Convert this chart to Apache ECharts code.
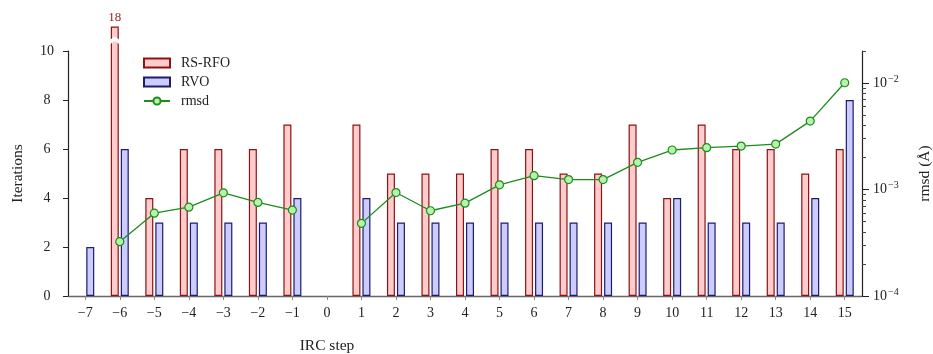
<!DOCTYPE html>
<html>
<head>
<meta charset="utf-8">
<script src="https://cdn.jsdelivr.net/npm/echarts@6/dist/echarts.min.js"></script>
<style>
html,body{margin:0;padding:0;background:#fff;}
#chart{width:933px;height:354px;}
</style>
</head>
<body>
<div id="chart"></div>
<script>
// ---- data ----
const steps = [-7,-6,-5,-4,-3,-2,-1,0,1,2,3,4,5,6,7,8,9,10,11,12,13,14,15];
const rsrfo = [null,18,4,6,6,6,7,null,7,5,5,5,6,6,5,5,7,4,7,6,6,5,6];
const rvo   = [2,6,3,3,3,3,4,null,4,3,3,3,3,3,3,3,3,4,3,3,3,4,8];
const rmsd  = [null,3.24e-4,6.0e-4,6.83e-4,9.31e-4,7.56e-4,6.41e-4,null,4.81e-4,9.37e-4,6.32e-4,7.45e-4,
               1.107e-3,1.35e-3,1.24e-3,1.24e-3,1.80e-3,2.35e-3,2.47e-3,2.56e-3,2.67e-3,4.39e-3,1.007e-2];
const leftTicks = [0,2,4,6,8,10];
const rightMajor = [1e-4,1e-3,1e-2];
const rightMinor = [];
[1e-4,1e-3,1e-2].forEach(d => { for (let k = 2; k <= 9; k++) { const v = +(k*d).toPrecision(3); if (v <= 0.02) rightMinor.push(v); } });

const FONT = 'Liberation Serif';
const TXT = '#222';
const yMax = 10;
const capShown = 11; // height of broken bar shown above axis top

const catLabels = steps.map(s => String(s).replace('-', '\u2212'));

const rsData = rsrfo.map(v => {
  if (v == null) return '-';
  if (v > yMax) return { value: capShown, label: { show: true, position: 'top', distance: 2, formatter: String(v), color: '#9b1c1c', fontFamily: FONT, fontSize: 13 } };
  return v;
});
const breakMarks = [];
rsrfo.forEach((v, i) => { if (v != null && v > yMax) breakMarks.push({ coord: [catLabels[i], yMax] }); });

const chart = echarts.init(document.getElementById('chart'), null, { renderer: 'canvas' });
chart.setOption({
  animation: false,
  backgroundColor: '#fff',
  textStyle: { fontFamily: FONT, color: TXT },
  title: {
    text: 'IRC step', left: 327, top: 338, textAlign: 'center', padding: 0,
    textStyle: { fontFamily: FONT, fontSize: 15.5, fontWeight: 'normal', color: TXT }
  },
  legend: {
    orient: 'vertical', left: 143, top: 56, padding: 0,
    itemWidth: 26, itemHeight: 9, itemGap: 5,
    textStyle: { fontFamily: FONT, fontSize: 14, color: TXT, padding: [0, 0, 0, 6] },
    data: [{ name: 'RS-RFO', icon: 'rect' }, { name: 'RVO', icon: 'rect' }, { name: 'rmsd' }]
  },
  grid: { left: 68, right: 71, top: 51, bottom: 58, containLabel: false, outerBoundsMode: 'none' },
  xAxis: {
    type: 'category', data: catLabels, boundaryGap: true,
    axisLine: { show: true, lineStyle: { color: '#666', width: 1.3 } },
    axisTick: { show: true, alignWithLabel: true, length: 4, lineStyle: { color: '#888' } },
    axisLabel: { fontFamily: FONT, fontSize: 14, color: TXT, margin: 10, interval: 0 },
    splitLine: { show: false }
  },
  yAxis: [
    {
      type: 'value', min: 0, max: 10, interval: 2, position: 'left',
      name: 'Iterations', nameLocation: 'middle', nameGap: 42, nameRotate: 90,
      nameTextStyle: { fontFamily: FONT, fontSize: 15.5, color: TXT },
      axisLine: { show: true, lineStyle: { color: '#222', width: 1.2 } },
      axisTick: { show: true, length: 5, lineStyle: { color: '#222' } },
      axisLabel: { fontFamily: FONT, fontSize: 14, color: TXT, margin: 21, align: 'center' },
      splitLine: { show: false }
    },
    {
      type: 'log', logBase: 10, min: 1e-4, max: 0.02, position: 'right',
      name: 'rmsd (Å)', nameLocation: 'middle', nameGap: 55, nameRotate: 90,
      nameTextStyle: { fontFamily: FONT, fontSize: 15.5, color: TXT },
      axisLine: { show: true, lineStyle: { color: '#222', width: 1.2 } },
      axisTick: { show: true, length: 7, lineStyle: { color: '#222' }, customValues: rightMajor },
      axisLabel: {
        fontFamily: FONT, fontSize: 14, color: TXT, margin: 11, customValues: rightMajor,
        formatter: v => {
          const e = Math.round(Math.log10(v));
          return '10{sup|' + String(e).replace('-', '\u2212') + '}';
        },
        rich: { sup: { fontFamily: FONT, fontSize: 10, color: TXT, verticalAlign: 'top', padding: [0, 0, 8, 1] } }
      },
      splitLine: { show: false }
    },
    {
      type: 'log', logBase: 10, min: 1e-4, max: 0.02, position: 'right', offset: 0,
      axisLine: { show: true, lineStyle: { color: '#222', width: 1.2, opacity: 0 } },
      axisTick: { show: true, length: 4, lineStyle: { color: '#444', width: 1 }, customValues: rightMinor },
      axisLabel: { show: true, customValues: rightMinor, formatter: () => '', fontSize: 1 },
      splitLine: { show: false }
    }
  ],
  series: [
    {
      name: 'RS-RFO', type: 'bar', yAxisIndex: 0, barWidth: 8, barGap: '25%', clip: false,
      itemStyle: { color: '#ffcccc', borderColor: '#8b1414', borderWidth: 1.2 },
      data: rsData,
      markPoint: {
        symbol: 'path://M0,5 L6,0 L12,5 L12,10 L6,5 L0,10 Z',
        symbolSize: [13, 9], symbolOffset: [0, -10],
        itemStyle: { color: '#fff', borderWidth: 0 },
        label: { show: false },
        data: breakMarks
      }
    },
    {
      name: 'RVO', type: 'bar', yAxisIndex: 0, barWidth: 8, clip: false,
      itemStyle: { color: '#ccccff', borderColor: '#1c1c6e', borderWidth: 1.2 },
      data: rvo.map(v => v == null ? '-' : v)
    },
    {
      name: 'rmsd', type: 'line', yAxisIndex: 1, z: 5,
      symbol: 'circle', symbolSize: 8, connectNulls: false,
      lineStyle: { color: '#1c8c1c', width: 1.3 },
      itemStyle: { color: '#b6f4ae', borderColor: '#1c8c1c', borderWidth: 1.2 },
      data: rmsd.map(v => v == null ? '-' : v)
    },
    {
      name: 'minor-ticks-anchor', type: 'line', yAxisIndex: 2, silent: true,
      showSymbol: false, lineStyle: { opacity: 0 }, data: []
    }
  ]
});
</script>
</body>
</html>
